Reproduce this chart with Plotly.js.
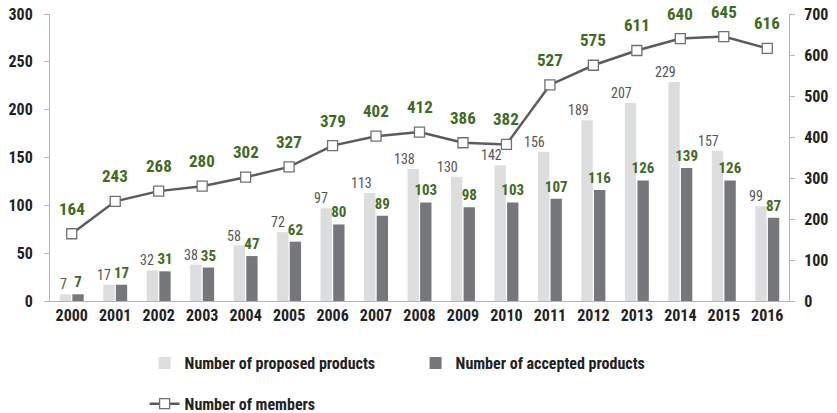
<!DOCTYPE html>
<html>
<head>
<meta charset="utf-8">
<script src="https://cdn.plot.ly/plotly-3.0.1.min.js"></script>
<style>html,body{margin:0;padding:0;background:#fff}#chart{width:837px;height:413px}</style>
</head>
<body>
<div id="chart"></div>
<script>
const years = ['2000','2001','2002','2003','2004','2005','2006','2007','2008','2009','2010','2011','2012','2013','2014','2015','2016'];
const proposed = [7,17,32,38,58,72,97,113,138,130,142,156,189,207,229,157,99];
const accepted = [7,17,31,35,47,62,80,89,103,98,103,107,116,126,139,126,87];
const members = [164,243,268,280,302,327,379,402,412,386,382,527,575,611,640,645,616];

const FONT = '"Liberation Sans Narrow","Arial Narrow","Roboto Condensed","DejaVu Sans Condensed",sans-serif';
const GREEN = '#3e6b22';

const traces = [
  {
    type: 'bar', name: 'Number of proposed products', x: years, y: proposed,
    marker: {color: '#dcdddf'},
    legend: 'legend', hoverinfo: 'skip'
  },
  {
    type: 'bar', name: 'Number of accepted products', x: years, y: accepted,
    marker: {color: '#76777b'},
    text: accepted.map(v => '<b>' + v + '</b>'), textposition: 'outside', constraintext: 'none', cliponaxis: false,
    textfont: {family: FONT, size: 15, color: GREEN},
    legend: 'legend', hoverinfo: 'skip'
  },
  {
    type: 'scatter', mode: 'lines+markers', name: 'Number of members', x: years, y: members, yaxis: 'y2',
    line: {color: '#5b5b5d', width: 2.5},
    marker: {symbol: 'square', size: 10, color: '#ffffff', line: {color: '#707070', width: 1.3}},
    cliponaxis: false, legend: 'legend2', hoverinfo: 'skip'
  }
];

const memberLabels = members.map((v, i) => ({
  x: i, y: v, xref: 'x', yref: 'y2', text: '<b>' + v + '</b>', showarrow: false,
  yshift: 25, font: {family: FONT, size: 17, color: GREEN}
}));
const proposedLabels = proposed.map((v, i) => ({
  x: i, y: v, xref: 'x', yref: 'y', text: String(v), showarrow: false,
  xanchor: 'right', yanchor: 'bottom', xshift: -2.5, yshift: 0,
  font: {family: FONT, size: 14, color: '#555'}
}));

const axisCommon = {
  showgrid: false, zeroline: false, showline: true, linecolor: '#b4b4b4', linewidth: 1,
  ticks: 'outside', ticklen: 5, tickcolor: '#b4b4b4',
  tickfont: {family: FONT, size: 16, color: '#222'}
};

const layout = {
  width: 837, height: 413,
  margin: {l: 50, r: 48, t: 14, b: 112, autoexpand: false},
  paper_bgcolor: '#fff', plot_bgcolor: '#fff',
  barmode: 'group', bargap: 0.42, bargroupgap: 0.1,
  font: {family: FONT},
  xaxis: {
    type: 'category', range: [-0.5, years.length - 0.5], showgrid: false, zeroline: false, showline: true, linecolor: '#b4b4b4',
    ticks: '', tickfont: {family: FONT, size: 16, color: '#222'}, tickprefix: '<b>', ticksuffix: '</b>'
  },
  yaxis: Object.assign({}, axisCommon, {range: [0, 300], dtick: 50, tickprefix: '<b>', ticksuffix: '</b>', ticklabelstandoff: 8}),
  yaxis2: Object.assign({}, axisCommon, {range: [0, 700], dtick: 100, overlaying: 'y', side: 'right', tickprefix: '<b>', ticksuffix: '</b>', ticklabelstandoff: 6}),
  showlegend: true,
  legend: {
    orientation: 'h', x: 0.128, xanchor: 'left', y: -0.216, yanchor: 'middle',
    entrywidth: 226, entrywidthmode: 'pixels',
    font: {family: FONT, size: 16, color: '#222'}, bgcolor: 'rgba(0,0,0,0)'
  },
  legend2: {
    orientation: 'h', x: 0.128, xanchor: 'left', y: -0.358, yanchor: 'middle',
    font: {family: FONT, size: 16, color: '#222'}, bgcolor: 'rgba(0,0,0,0)'
  },
  annotations: proposedLabels.concat(memberLabels)
};

traces.forEach(t => { t.name = '<b>' + t.name + '</b>'; });

Plotly.newPlot('chart', traces, layout, {staticPlot: true, displayModeBar: false});
</script>
</body>
</html>
